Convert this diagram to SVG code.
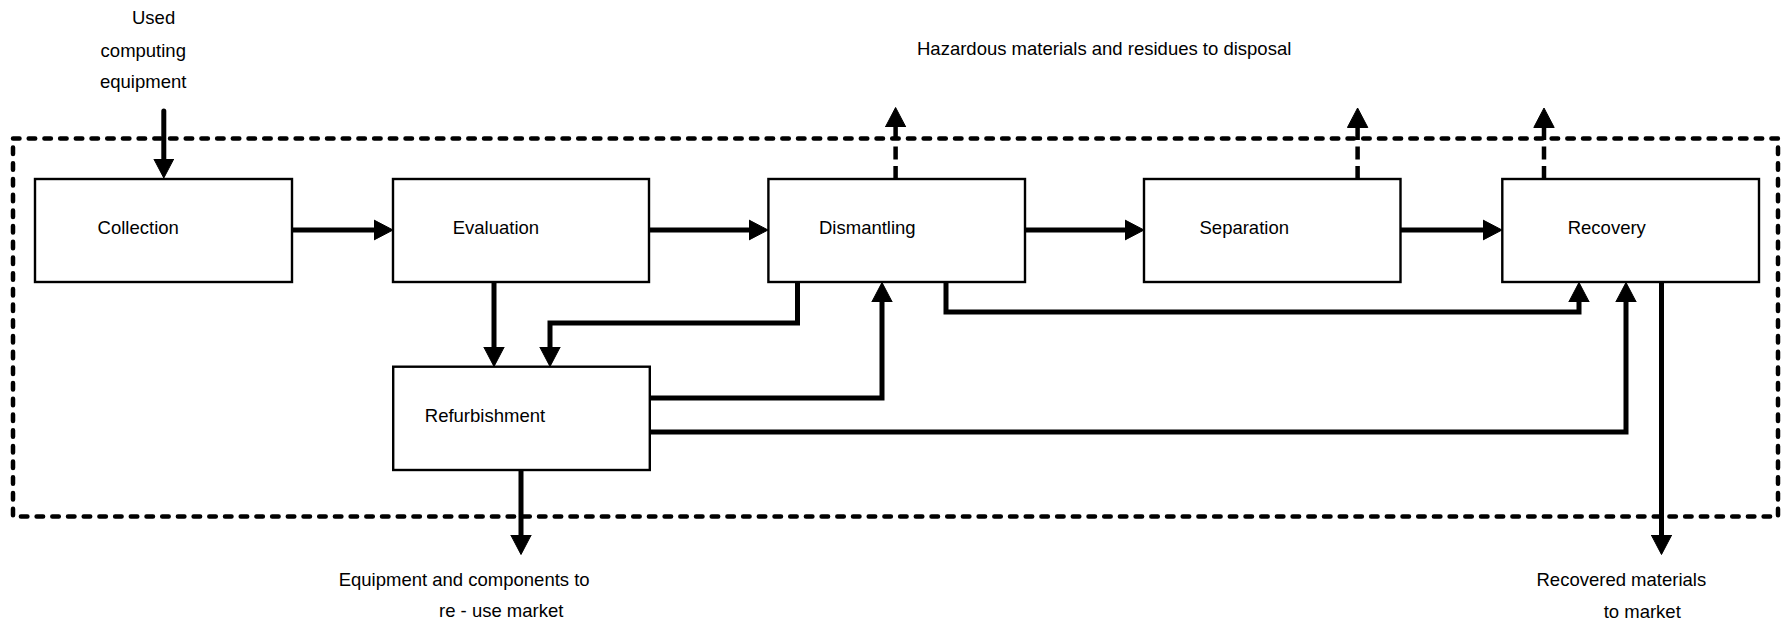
<svg xmlns="http://www.w3.org/2000/svg" width="1785" height="622" viewBox="0 0 1785 622">
  <style>
    .box { fill: #ffffff; stroke: #000000; stroke-width: 2.4; }
    .lbl { font-family: "Liberation Sans", Arial, sans-serif; font-size: 18.5px; fill: #000000; }
    .conn { fill: none; stroke: #000000; stroke-width: 5; stroke-linecap: round; stroke-linejoin: miter; }
    .dash { fill: none; stroke: #000000; stroke-width: 4.5; stroke-dasharray: 13 6.5; }
    .frame { fill: none; stroke: #000000; stroke-width: 4.5; stroke-linecap: round; stroke-dasharray: 6.5 9.2; }
  </style>
  <defs>
    <marker id="arrow" markerUnits="userSpaceOnUse" markerWidth="20" markerHeight="22" viewBox="0 -11 20 22" refX="0" refY="0" orient="auto">
      <path d="M0,-10.2 L19.5,0 L0,10.2 z" fill="#000000" stroke="#000000" stroke-width="1" stroke-linejoin="round"/>
    </marker>
  </defs>
  <rect width="1785" height="622" fill="#ffffff"/>

  <rect id="boundary" class="frame" x="13" y="138.5" width="1765" height="378"/>

  <g id="connectors">
    <path class="conn" d="M163.8,111 V158.5" marker-end="url(#arrow)"/>
    <path class="conn" d="M292,230 H373.5" marker-end="url(#arrow)"/>
    <path class="conn" d="M649,230 H748.5" marker-end="url(#arrow)"/>
    <path class="conn" d="M1025,230 H1124.5" marker-end="url(#arrow)"/>
    <path class="conn" d="M1400.5,230 H1482.5" marker-end="url(#arrow)"/>
    <path class="conn" d="M494,282 V347" marker-end="url(#arrow)"/>
    <path class="conn" d="M797.5,282 V323 H550 V347" marker-end="url(#arrow)"/>
    <path class="conn" d="M650,398 H882 V302" marker-end="url(#arrow)"/>
    <path class="conn" d="M946,282 V312 H1579 V302" marker-end="url(#arrow)"/>
    <path class="conn" d="M650,432 H1626 V302" marker-end="url(#arrow)"/>
    <path class="conn" d="M521,470 V535" marker-end="url(#arrow)"/>
    <path class="conn" d="M1661.5,282 V535" marker-end="url(#arrow)"/>
    <path class="dash" d="M895.6,179 V127" marker-end="url(#arrow)"/>
    <path class="dash" d="M1357.6,179 V127.5" marker-end="url(#arrow)"/>
    <path class="dash" d="M1544,179 V127.5" marker-end="url(#arrow)"/>
  </g>

  <g id="collection">
    <rect class="box" x="35" y="179" width="257" height="103"/>
    <text class="lbl" x="97.6" y="234">Collection</text>
  </g>
  <g id="evaluation">
    <rect class="box" x="393" y="179" width="256" height="103"/>
    <text class="lbl" x="452.7" y="234">Evaluation</text>
  </g>
  <g id="dismantling">
    <rect class="box" x="768.4" y="179" width="256.6" height="103"/>
    <text class="lbl" x="819" y="234">Dismantling</text>
  </g>
  <g id="separation">
    <rect class="box" x="1144" y="179" width="256.5" height="103"/>
    <text class="lbl" x="1199.5" y="234">Separation</text>
  </g>
  <g id="recovery">
    <rect class="box" x="1502.3" y="179" width="256.7" height="103"/>
    <text class="lbl" x="1567.7" y="234">Recovery</text>
  </g>
  <g id="refurbishment">
    <rect class="box" x="393.2" y="366.7" width="256.6" height="103.3"/>
    <text class="lbl" x="424.8" y="421.5">Refurbishment</text>
  </g>

  <g id="input-label">
    <text class="lbl" x="132" y="24">Used</text>
    <text class="lbl" x="100.6" y="56.7">computing</text>
    <text class="lbl" x="100" y="88.3">equipment</text>
  </g>
  <g id="disposal-label">
    <text class="lbl" x="917" y="55">Hazardous materials and residues to disposal</text>
  </g>
  <g id="reuse-label">
    <text class="lbl" x="338.7" y="586">Equipment and components to</text>
    <text class="lbl" x="439" y="617">re - use market</text>
  </g>
  <g id="materials-label">
    <text class="lbl" x="1536.5" y="586">Recovered materials</text>
    <text class="lbl" x="1603.7" y="618">to market</text>
  </g>
</svg>
